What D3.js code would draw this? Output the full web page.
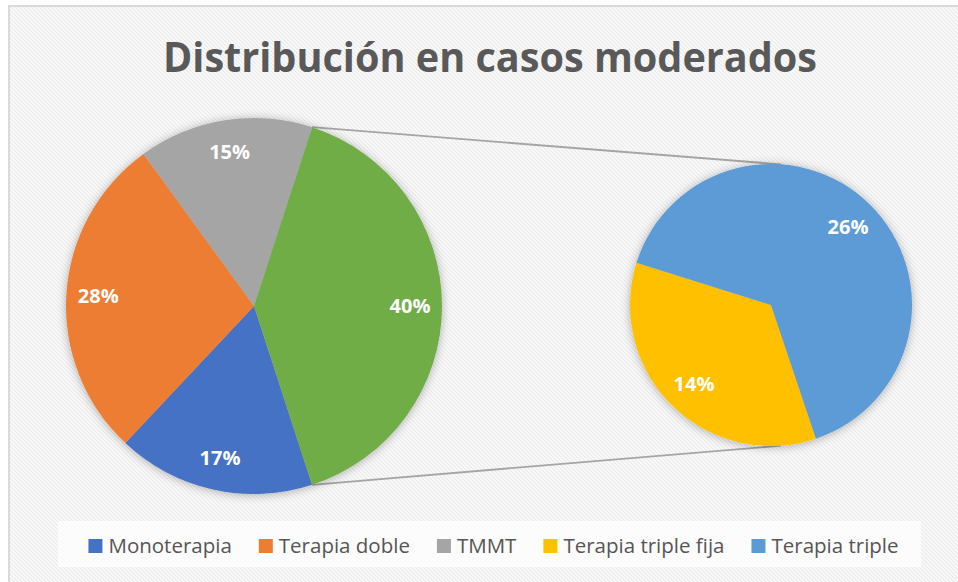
<!DOCTYPE html>
<html>
<head>
<meta charset="utf-8">
<script src="https://cdn.jsdelivr.net/npm/d3@7"></script>
<style>
  html, body { margin: 0; padding: 0; background: #fff; }
  svg { display: block; font-family: "Open Sans", "DejaVu Sans", sans-serif; }
</style>
</head>
<body>
<svg id="chart" width="958" height="582"></svg>
<script>
// data (percent)
var mainLabels = ["Monoterapia", "Terapia doble", "TMMT"];
var mainValues = [17, 28, 15];
var secLabels = ["Terapia triple fija", "Terapia triple"];
var secValues = [14, 26];
var colours = ["#4472c4", "#ed7d31", "#a5a5a5", "#ffc000", "#5b9bd5"];
var otherColour = "#70ad47";
var title = "Distribución en casos moderados";

var svg = d3.select("#chart");
var defs = svg.append("defs");

// striped background texture
var pat = defs.append("pattern")
    .attr("id", "stripes")
    .attr("width", 4).attr("height", 4)
    .attr("patternUnits", "userSpaceOnUse");
pat.append("rect").attr("width", 4).attr("height", 4).attr("fill", "#fcfcfc");
pat.append("path")
    .attr("d", "M-1,-1 L5,5 M-1,3 L1,5 M3,-1 L5,1")
    .attr("stroke", "#ebebeb")
    .attr("stroke-width", 1.3);

var shadow = defs.append("filter").attr("id", "shadow")
    .attr("x", "-20%").attr("y", "-20%").attr("width", "140%").attr("height", "140%");
shadow.append("feDropShadow")
    .attr("dx", 0).attr("dy", 1)
    .attr("stdDeviation", 5)
    .attr("flood-color", "#000")
    .attr("flood-opacity", 0.3);

// chart area + border
svg.append("rect")
    .attr("x", 9).attr("y", 6)
    .attr("width", 960).attr("height", 590)
    .attr("fill", "url(#stripes)")
    .attr("stroke", "#d9d9d9")
    .attr("stroke-width", 2);

// title
svg.append("text")
    .attr("x", 490).attr("y", 72)
    .attr("text-anchor", "middle")
    .attr("font-size", 42)
    .attr("font-weight", "bold")
    .attr("fill", "#595959")
    .attr("textLength", 654)
    .attr("lengthAdjust", "spacingAndGlyphs")
    .text(title);

var otherValue = d3.sum(secValues);
var mainData = mainValues.map(function(v, i) {
    return { label: mainLabels[i], value: v, colour: colours[i] };
});
mainData.push({ label: "Otros", value: otherValue, colour: otherColour });

var secData = secValues.map(function(v, i) {
    return { label: secLabels[i], value: v, colour: colours[mainValues.length + i] };
});

var total = d3.sum(mainData, function(d) { return d.value; });

// main pie: "other" slice centred to the right
var otherShare = otherValue / total;
var mainStart = Math.PI / 2 + otherShare * Math.PI;
var mainPie = d3.pie().sort(null).value(function(d) { return d.value; })
    .startAngle(mainStart).endAngle(mainStart + 2 * Math.PI);

var c1 = { x: 254, y: 306, r: 188 };
var c2 = { x: 771, y: 305, r: 141 };

var mainArcs = mainPie(mainData);
var arc1 = d3.arc().innerRadius(0).outerRadius(c1.r);
var labelArc1 = d3.arc().innerRadius(c1.r * 0.83).outerRadius(c1.r * 0.83);

var secStart = 2.817;
var secPie = d3.pie().sort(null).value(function(d) { return d.value; })
    .startAngle(secStart).endAngle(secStart + 2 * Math.PI);
var secArcs = secPie(secData);
var arc2 = d3.arc().innerRadius(0).outerRadius(c2.r);
var labelArc2 = d3.arc().innerRadius(c2.r * 0.78).outerRadius(c2.r * 0.78);

// connector lines from the "other" slice to the second pie
var o = mainArcs[mainArcs.length - 1];
function pt(c, a) { return [c.x + c.r * Math.sin(a), c.y - c.r * Math.cos(a)]; }
var tilt = 0.07;
var lines = [
    [pt(c1, o.startAngle), pt(c2, tilt)],
    [pt(c1, o.endAngle), pt(c2, Math.PI - tilt)]
];
svg.append("g").selectAll("line").data(lines).join("line")
    .attr("x1", function(d) { return d[0][0]; })
    .attr("y1", function(d) { return d[0][1]; })
    .attr("x2", function(d) { return d[1][0]; })
    .attr("y2", function(d) { return d[1][1]; })
    .attr("stroke", "#a5a5a5")
    .attr("stroke-width", 1.8);

var g1 = svg.append("g").attr("transform", "translate(" + c1.x + "," + c1.y + ")");
g1.append("g").attr("filter", "url(#shadow)")
    .selectAll("path").data(mainArcs).join("path")
    .attr("d", arc1)
    .attr("fill", function(d) { return d.data.colour; });
g1.selectAll("text").data(mainArcs).join("text")
    .attr("transform", function(d) { return "translate(" + labelArc1.centroid(d) + ")"; })
    .attr("text-anchor", "middle")
    .attr("dy", "0.36em")
    .attr("font-size", 20)
    .attr("font-weight", "bold")
    .attr("fill", "#fff")
    .text(function(d) { return d.data.value + "%"; });

var g2 = svg.append("g").attr("transform", "translate(" + c2.x + "," + c2.y + ")");
g2.append("g").attr("filter", "url(#shadow)")
    .selectAll("path").data(secArcs).join("path")
    .attr("d", arc2)
    .attr("fill", function(d) { return d.data.colour; });
g2.selectAll("text").data(secArcs).join("text")
    .attr("transform", function(d) { return "translate(" + labelArc2.centroid(d) + ")"; })
    .attr("text-anchor", "middle")
    .attr("dy", "0.36em")
    .attr("font-size", 20)
    .attr("font-weight", "bold")
    .attr("fill", "#fff")
    .text(function(d) { return d.data.value + "%"; });

// legend
var legendItems = mainData.slice(0, mainValues.length).concat(secData);
svg.append("rect")
    .attr("x", 58).attr("y", 521)
    .attr("width", 863).attr("height", 46)
    .attr("fill", "#fff").attr("opacity", 0.75);

var legend = svg.append("g");
var items = legend.selectAll("g").data(legendItems).join("g");
items.append("rect")
    .attr("width", 14).attr("height", 14)
    .attr("y", 539)
    .attr("fill", function(d) { return d.colour; });
items.append("text")
    .attr("x", 20).attr("y", 553)
    .attr("font-size", 20.5)
    .attr("fill", "#555")
    .text(function(d) { return d.label; });

var x = 0, widths = [];
items.each(function() {
    widths.push(d3.select(this).select("text").node().getComputedTextLength());
});
var gap = 27;
var totalW = d3.sum(widths) + widths.length * 20 + (widths.length - 1) * gap;
x = 493.5 - totalW / 2;
items.each(function(d, i) {
    d3.select(this).attr("transform", "translate(" + x + ",0)");
    x += 20 + widths[i] + gap;
});
</script>
</body>
</html>
